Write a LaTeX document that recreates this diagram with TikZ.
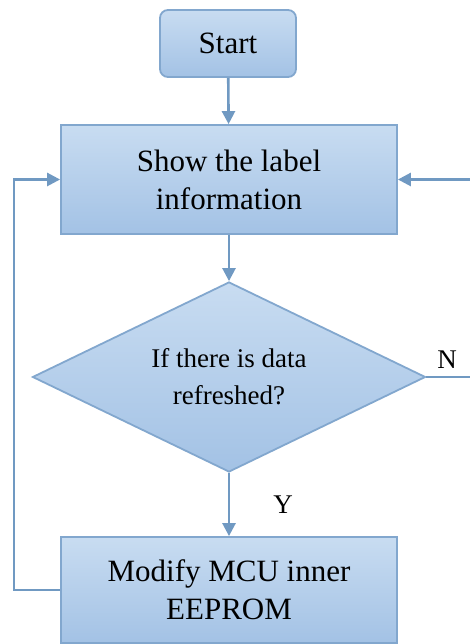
\documentclass[tikz,border=0pt]{standalone}
\usepackage{fontspec}
\setmainfont{Liberation Serif}
\usepackage{tikz}
\usetikzlibrary{arrows.meta,positioning,calc,shapes.geometric}

\definecolor{boxtop}{HTML}{C8DCF1}
\definecolor{boxbot}{HTML}{A3C2E5}
\definecolor{boxline}{HTML}{82A7CE}
\definecolor{flowline}{HTML}{7099C2}

\tikzset{
    stepbox/.style={draw=boxline,line width=1.8pt,top color=boxtop,bottom color=boxbot,
        minimum width=336pt,align=center,inner sep=0pt,
        font=\fontsize{31}{38}\selectfont},
    decbox/.style={diamond,draw=boxline,line width=1.8pt,top color=boxtop,bottom color=boxbot,
        aspect=2.07,minimum width=393pt,minimum height=190pt,inner sep=0pt,align=center,
        font=\fontsize{27}{37}\selectfont},
    flow/.style={draw=flowline,line width=2.6pt,-{Triangle[length=13pt,width=13pt]}},
    tag/.style={font=\fontsize{27}{30}\selectfont}
}

\begin{document}
\begin{tikzpicture}[x=1pt,y=1pt]
\useasboundingbox[fill=white] (0,0) rectangle (470,644);

% Boxes
\node[stepbox,rounded corners=8pt,minimum width=136pt,minimum height=67pt] (start) at (228,600.5) {Start};
\node[stepbox,minimum height=109pt] (show) at (229,464.5) {Show the label\\information};
\node[decbox] (check) at (229,267) {If there is data\\refreshed?};
\node[stepbox,minimum height=106pt] (modify) at (229,54) {Modify MCU inner\\EEPROM};

% Main flow
\draw[flow] (start) -- (show);
\draw[flow] (show) -- (check);
\draw[flow] (check) -- (modify);
\node[tag] (yes) at (283,139) {Y};

% Loop back after modify
\coordinate (lft) at (14,0);
\draw[flow] (modify.west) -- (modify.west -| lft) |- (show.west);

% No branch (runs off the right edge)
\coordinate (rgt) at (480,0);
\draw[flow] (check.east) -- (check.east -| rgt) |- (show.east);
\node[tag] (no) at (447,284) {N};
\end{tikzpicture}
\end{document}
